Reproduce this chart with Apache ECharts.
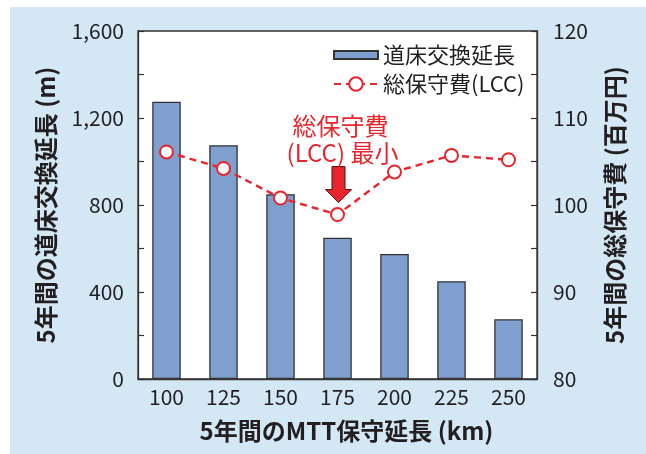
<!DOCTYPE html>
<html>
<head>
<meta charset="utf-8">
<script src="https://cdn.jsdelivr.net/npm/echarts@6/dist/echarts.min.js"></script>
<style>
  html, body { margin: 0; padding: 0; background: #ffffff; }
  #chart { position: absolute; left: 10px; top: 7px; width: 636px; height: 447px; }
</style>
</head>
<body>
<div id="chart"></div>
<script>
// MTT maintenance length per 5 years (km)
const categories = ['100', '125', '150', '175', '200', '225', '250'];
// Ballast renewal length per 5 years (m)
const renewalLength = [1275, 1075, 850, 650, 575, 450, 275];
// Total maintenance cost, LCC (million yen)
const totalCost = [106.1, 104.2, 100.8, 98.9, 103.8, 105.7, 105.2];
// Category with the lowest LCC
const minCategory = '175';

const FONT = 'Noto Sans CJK JP';
const TEXT = '#231f20';
const RED = '#e8242c';
const BAR = '#7f9fcf';

const chart = echarts.init(document.getElementById('chart'));

chart.setOption({
  backgroundColor: '#d4e7f5',
  textStyle: { fontFamily: FONT, color: TEXT },
  grid: {
    left: 128, top: 24, right: 109, bottom: 75,
    show: true, backgroundColor: '#ffffff', borderColor: '#333333', borderWidth: 1.3
  },
  legend: {
    orient: 'vertical',
    left: 318, top: 32,
    itemWidth: 44, itemHeight: 17, itemGap: 7,
    textStyle: { fontFamily: FONT, fontSize: 22, color: TEXT, lineHeight: 22 },
    data: [
      { name: '道床交換延長', icon: 'path://M0,4.5H44V12.5H0Z M0,0 M44,17' },
      { name: '総保守費(LCC)' }
    ]
  },
  xAxis: {
    type: 'category',
    data: categories,
    axisLine: { show: true, lineStyle: { color: '#333333', width: 1.3 } },
    axisTick: { show: false },
    axisLabel: { fontFamily: FONT, fontSize: 21, color: TEXT, margin: 8 },
    name: '5年間のMTT保守延長 (km)',
    nameLocation: 'middle',
    nameGap: 40,
    nameTextStyle: { fontFamily: FONT, fontSize: 24, fontWeight: 'bold', color: TEXT, padding: [0, 0, 0, 18] }
  },
  yAxis: [
    {
      type: 'value',
      min: 0, max: 1600, interval: 200,
      splitLine: { show: false },
      axisLine: { show: true, lineStyle: { color: '#333333', width: 1.3 } },
      axisTick: { show: true, inside: true, length: 6, lineStyle: { color: '#333333', width: 1.2 } },
      axisLabel: {
        fontFamily: FONT, fontSize: 21, color: TEXT, margin: 14,
        formatter: v => (v % 400 === 0 ? v.toLocaleString('en-US') : '')
      },
      name: '5年間の道床交換延長 (m)',
      nameLocation: 'middle',
      nameRotate: 90,
      nameGap: 80,
      nameTextStyle: { fontFamily: FONT, fontSize: 24, fontWeight: 'bold', color: TEXT }
    },
    {
      type: 'value',
      min: 80, max: 120, interval: 5,
      position: 'right',
      splitLine: { show: false },
      axisLine: { show: true, lineStyle: { color: '#333333', width: 1.3 } },
      axisTick: { show: true, inside: true, length: 6, lineStyle: { color: '#333333', width: 1.2 } },
      axisLabel: {
        fontFamily: FONT, fontSize: 21, color: TEXT, margin: 16,
        formatter: v => (v % 10 === 0 ? String(v) : '')
      },
      name: '5年間の総保守費 (百万円)',
      nameLocation: 'middle',
      nameRotate: 90,
      nameGap: 66,
      nameTextStyle: { fontFamily: FONT, fontSize: 24, fontWeight: 'bold', color: TEXT }
    }
  ],
  series: [
    {
      name: '道床交換延長',
      type: 'bar',
      yAxisIndex: 0,
      data: renewalLength,
      barWidth: '50%',
      itemStyle: { color: BAR, borderColor: '#333333', borderWidth: 1.3 },
      z: 2
    },
    {
      name: '総保守費(LCC)',
      type: 'line',
      yAxisIndex: 1,
      data: totalCost,
      symbol: 'emptyCircle',
      symbolSize: 13,
      itemStyle: { color: RED, borderColor: RED, borderWidth: 2.6 },
      lineStyle: { color: RED, width: 2.4, type: [7, 5] },
      z: 5
    }
  ]
});

// Annotation pointing at the LCC minimum
const minIndex = categories.indexOf(minCategory);
const p = chart.convertToPixel({ xAxisIndex: 0, yAxisIndex: 1 }, [minIndex, totalCost[minIndex]]);
const cx = p[0] + 1;
const tipY = p[1] - 12;
chart.setOption({
  graphic: [
    {
      type: 'polygon',
      z: 10,
      shape: {
        points: [
          [cx - 6.5, tipY - 36], [cx + 6.5, tipY - 36], [cx + 6.5, tipY - 13],
          [cx + 13, tipY - 13], [cx, tipY], [cx - 13, tipY - 13], [cx - 6.5, tipY - 13]
        ]
      },
      style: { fill: RED, stroke: '#4a1212', lineWidth: 1 }
    },
    {
      type: 'text',
      z: 10,
      x: cx + 2, y: tipY - 77,
      style: {
        text: '総保守費', fill: RED, font: '24px "' + FONT + '"',
        textAlign: 'center', textVerticalAlign: 'middle'
      }
    },
    {
      type: 'text',
      z: 10,
      x: cx + 4, y: tipY - 50,
      style: {
        text: '(LCC) 最小', fill: RED, font: '24px "' + FONT + '"',
        textAlign: 'center', textVerticalAlign: 'middle'
      }
    }
  ]
});
</script>
</body>
</html>
